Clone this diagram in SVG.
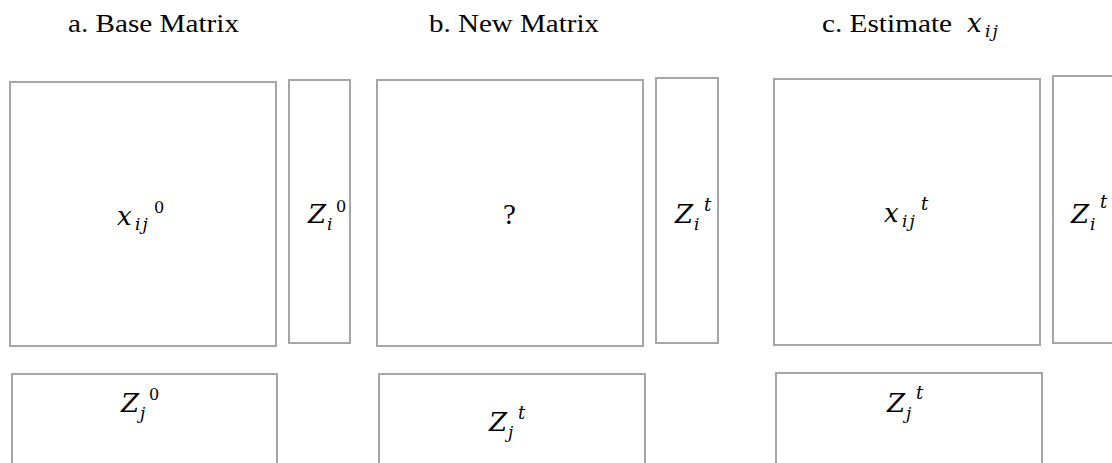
<svg xmlns="http://www.w3.org/2000/svg" width="1112" height="463" viewBox="0 0 1112 463">
<style>
.box{fill:#fff;stroke:#a6a6a6;stroke-width:2}
.title{font-family:"Liberation Serif",serif;font-size:25px;fill:#000}
.m{font-family:"DejaVu Serif",serif;font-style:italic;font-size:26px;fill:#000}
.sub{font-family:"DejaVu Serif",serif;font-style:italic;font-size:17px;letter-spacing:2px;fill:#000}
.sup{font-family:"DejaVu Serif",serif;font-size:16px;fill:#000}
.supi{font-family:"DejaVu Serif",serif;font-style:italic;font-size:18px;fill:#000}
.q{font-family:"Liberation Serif",serif;font-size:29px;fill:#000}
</style>
<rect width="1112" height="463" fill="#fff"/>
<g id="titles">
<text class="title" x="68" y="32" textLength="171" lengthAdjust="spacingAndGlyphs">a. Base Matrix</text>
<text class="title" x="429" y="32" textLength="170" lengthAdjust="spacingAndGlyphs">b. New Matrix</text>
<text class="title" x="822" y="32" textLength="130" lengthAdjust="spacingAndGlyphs">c. Estimate</text>
<text class="m" x="967" y="32">x</text><text class="sub" x="985" y="37">ij</text>
</g>
<g id="a-main"><rect class="box" x="10" y="82" width="266" height="264"/>
<text class="m" x="117" y="225">x</text><text class="sub" x="135" y="230">ij</text><text class="sup" x="154" y="213">0</text></g>
<g id="a-zi"><rect class="box" x="289" y="80" width="61" height="263"/>
<text class="m" x="308" y="223">Z</text><text class="sub" x="327" y="230">i</text><text class="sup" x="336" y="212">0</text></g>
<g id="a-zj"><rect class="box" x="12" y="374" width="265" height="100"/>
<text class="m" x="121" y="412">Z</text><text class="sub" x="140" y="419">j</text><text class="sup" x="149" y="400">0</text></g>
<g id="b-main"><rect class="box" x="377" y="80" width="266" height="266"/>
<text class="q" x="503" y="224">?</text></g>
<g id="b-zi"><rect class="box" x="656" y="78" width="62" height="265"/>
<text class="m" x="675" y="223">Z</text><text class="sub" x="694" y="230">i</text><text class="supi" x="704" y="211">t</text></g>
<g id="b-zj"><rect class="box" x="379" y="374" width="266" height="100"/>
<text class="m" x="489" y="431">Z</text><text class="sub" x="508" y="438">j</text><text class="supi" x="518" y="419">t</text></g>
<g id="c-main"><rect class="box" x="774" y="79" width="266" height="266"/>
<text class="m" x="884" y="222">x</text><text class="sub" x="902" y="227">ij</text><text class="supi" x="921" y="210">t</text></g>
<g id="c-zi"><rect class="box" x="1053" y="76" width="70" height="267"/>
<text class="m" x="1071" y="223">Z</text><text class="sub" x="1090" y="230">i</text><text class="supi" x="1100" y="208">t</text></g>
<g id="c-zj"><rect class="box" x="776" y="373" width="266" height="100"/>
<text class="m" x="887" y="412">Z</text><text class="sub" x="906" y="419">j</text><text class="supi" x="916" y="399">t</text></g>
<g id="connectors"/>
</svg>
